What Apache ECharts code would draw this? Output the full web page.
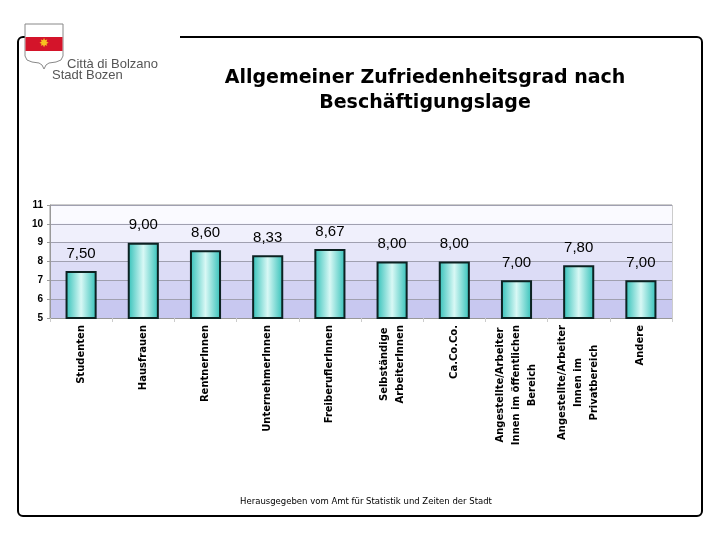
<!DOCTYPE html>
<html><head><meta charset="utf-8">
<script src="https://cdn.jsdelivr.net/npm/echarts@6/dist/echarts.min.js"></script>
<style>html,body{margin:0;padding:0;background:#fff}#c{width:720px;height:540px}</style>
</head><body><div id="c"></div>
<script>
const categories = [
  "Studenten",
  "Hausfrauen",
  "RentnerInnen",
  "UnternehmerInnen",
  "FreiberuflerInnen",
  "Selbständige\nArbeiterInnen",
  "Ca.Co.Co.",
  "Angestellte/Arbeiter\nInnen im öffentlichen\nBereich",
  "Angestellte/Arbeiter\nInnen im\nPrivatbereich",
  "Andere"
];
const values = [7.50, 9.00, 8.60, 8.33, 8.67, 8.00, 8.00, 7.00, 7.80, 7.00];
const yTicks = [5, 6, 7, 8, 9, 10, 11];
const titleText = "Allgemeiner Zufriedenheitsgrad nach\nBeschäftigungslage";
const footerText = "Herausgegeben vom Amt für Statistik und Zeiten der Stadt";

const chart = echarts.init(document.getElementById('c'));
const teal = '#30c0b8';
const narrow = "'Liberation Sans Narrow', 'Liberation Sans', Arial, sans-serif";
chart.setOption({
  animation: false,
  title: {
    text: titleText, left: 420, top: 61, textAlign: 'center',
    textStyle: { fontFamily: 'DejaVu Sans', fontWeight: 'bold', fontSize: 19, lineHeight: 25, color: '#000' }
  },
  grid: {
    left: 50, top: 205, width: 622, height: 113, show: true,
    borderColor: '#999', borderWidth: 1,
    backgroundColor: '#e4e4f8'
  },
  xAxis: {
    type: 'category', data: categories,
    axisLine: { lineStyle: { color: '#999', width: 1 } },
    axisTick: { show: true, length: 4, lineStyle: { color: '#ccc' } },
    axisLabel: {
      rotate: 90, margin: 7, interval: 0,
      fontFamily: 'DejaVu Sans', fontWeight: 'bold', fontSize: 10, color: '#000', lineHeight: 16,
      formatter: v => v.split('\n').map(s => '{c|' + s + '}').join('\n'),
      rich: { c: { align: 'center', fontFamily: 'DejaVu Sans', fontWeight: 'bold', fontSize: 10, lineHeight: 16 } }
    }
  },
  yAxis: {
    type: 'value', min: yTicks[0], max: yTicks[yTicks.length - 1], interval: 1,
    axisLine: { show: true, lineStyle: { color: '#999' } },
    axisTick: { show: true, length: 3, lineStyle: { color: '#999' } },
    axisLabel: { fontFamily: narrow, fontWeight: 'bold', fontSize: 10, color: '#000', margin: 7 },
    splitLine: { lineStyle: { color: '#a0a0b0', width: 1 } },
    splitArea: { show: true, areaStyle: { color: ['#c8c8f0', '#d2d2f3', '#dcdcf6', '#e6e6f9', '#f0f0fc', '#fafaff'] } }
  },
  series: [{
    type: 'bar', data: values, barWidth: '50%',
    itemStyle: {
      color: new echarts.graphic.LinearGradient(0, 0, 1, 0, [
        { offset: 0, color: teal }, { offset: 0.5, color: '#d8f8f5' }, { offset: 1, color: teal }
      ]),
      borderColor: '#0c2222', borderWidth: 2
    },
    label: {
      show: true, position: 'top', distance: 10,
      fontFamily: narrow, fontSize: 15, color: '#000',
      formatter: p => p.value.toFixed(2).replace('.', ',')
    }
  }],
  graphic: [
    { type: 'rect', shape: { x: 18, y: 37, width: 684, height: 479, r: 5 },
      style: { fill: 'transparent', stroke: '#000', lineWidth: 2 } },
    { type: 'rect', shape: { x: 25, y: 34, width: 155, height: 6 }, style: { fill: '#fff' } },
    { type: 'polygon', shape: { points: [[25,24],[63,24],[63,56],[61,60],[56,62],[49,63],[46,65],[44,69],[42,65],[39,63],[32,62],[27,60],[25,56]] },
      style: { fill: '#fff', stroke: '#888', lineWidth: 1 } },
    { type: 'rect', shape: { x: 25.5, y: 37, width: 37, height: 14 }, style: { fill: '#d4142a' } },
    { type: 'text', x: 44, y: 44, style: { text: '✸', fill: '#f8c020', fontSize: 12, align: 'center', verticalAlign: 'middle' } },
    { type: 'text', x: 67, y: 64, style: { text: 'Città di Bolzano', fill: '#555', fontFamily: 'Liberation Sans', fontSize: 13, verticalAlign: 'middle' } },
    { type: 'text', x: 52, y: 75, style: { text: 'Stadt Bozen', fill: '#555', fontFamily: 'Liberation Sans', fontSize: 13, verticalAlign: 'middle' } },
    { type: 'text', x: 366, y: 502, style: { text: footerText, fill: '#000', fontFamily: 'DejaVu Sans', fontSize: 8.5, align: 'center', verticalAlign: 'middle' } }
  ]
});
</script></body></html>
